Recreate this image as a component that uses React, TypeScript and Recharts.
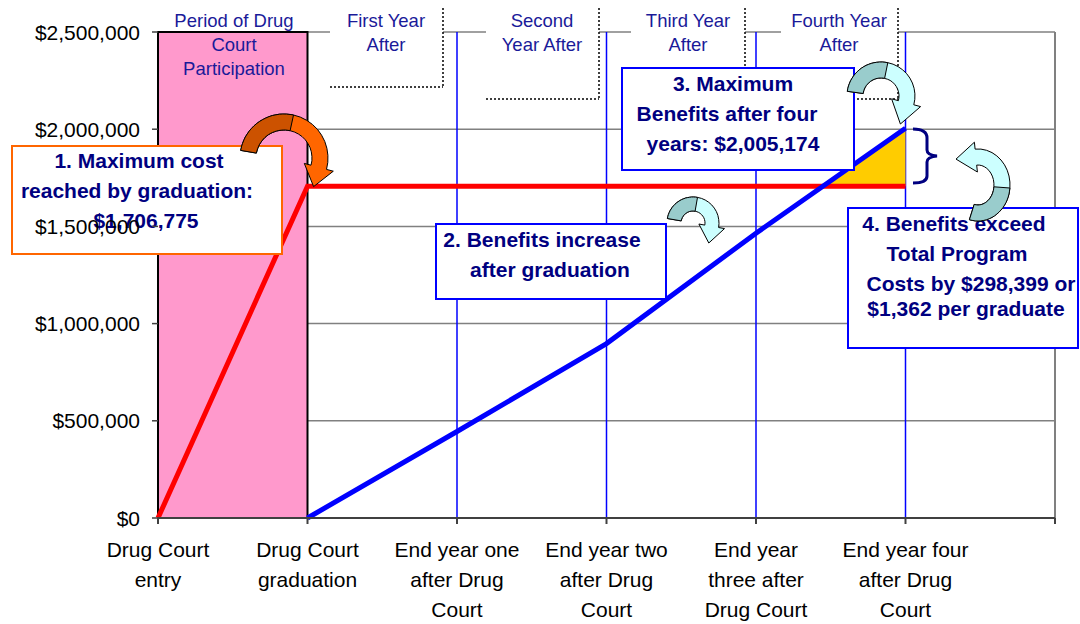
import React from 'react';
import * as Recharts from 'recharts';
import { ComposedChart, Line, Area, XAxis, YAxis, CartesianGrid, ReferenceArea, ReferenceLine } from 'recharts';

// chart values
const steps = [0, 1, 2, 3, 4, 5];
const stepLabels = [
  ['Drug Court', 'entry'],
  ['Drug Court', 'graduation'],
  ['End year one', 'after Drug', 'Court'],
  ['End year two', 'after Drug', 'Court'],
  ['End year', 'three after', 'Drug Court'],
  ['End year four', 'after Drug', 'Court'],
];
const programCost = [0, 1706775, 1706775, 1706775, 1706775, 1706775];
const benefits: (number | null)[] = [null, 0, 445000, 897000, 1465000, 2005174];
const yTicks = [0, 500000, 1000000, 1500000, 2000000, 2500000];
const xTicks = [0, 1, 2, 3, 4, 5, 6];
const yearLines = [2, 3, 4, 5];

const FONT = "'Liberation Sans', Arial, sans-serif";
const NAVY = '#000080';
const HEAD_BLUE = '#1a1a99';

// z-index layers exist in newer recharts 3; fall back to plain order otherwise
const ZLayer: any = (Recharts as any).ZIndexLayer;
const Layer = ({ z, children }: { z: number; children: React.ReactNode }) =>
  ZLayer ? <ZLayer zIndex={z}>{children}</ZLayer> : <>{children}</>;

// rows for the chart; the gold wedge starts where benefits pass cost
const rows: any[] = [];
steps.forEach((s, i) => {
  const b = benefits[i];
  const c = programCost[i];
  if (i > 0) {
    const pb = benefits[i - 1];
    const pc = programCost[i - 1];
    if (pb != null && b != null && pb < pc && b >= c) {
      const t = (pc - pb) / ((b - pb) - (c - pc));
      const v = pc + t * (c - pc);
      rows.push({ step: s - 1 + t, cost: v, benefit: v, excess: [v, v] });
    }
  }
  rows.push({
    step: s,
    cost: c,
    benefit: b,
    excess: b != null && b >= c && c > 0 ? [c, b] : null,
  });
});

const headers = [
  { lines: ['Period of Drug', 'Court', 'Participation'], cx: 234, box: null as number[] | null },
  { lines: ['First Year', 'After'], cx: 386, box: [330, 443, 87] },
  { lines: ['Second', 'Year After'], cx: 542, box: [486, 599, 99] },
  { lines: ['Third Year', 'After'], cx: 688, box: [631, 745, 99] },
  { lines: ['Fourth Year', 'After'], cx: 839, box: [781, 898, 99] },
];

const notes = [
  { x: 12, y: 146, w: 270, h: 108, stroke: '#ff6600', lines: [['1. Maximum cost', 139, 160], ['reached by graduation:', 137, 190], ['$1,706,775', 146, 220]] },
  { x: 436, y: 224, w: 230, h: 75, stroke: '#0000ff', lines: [['2. Benefits increase', 542, 239], ['after graduation', 550, 269]] },
  { x: 622, y: 68, w: 232, h: 102, stroke: '#0000ff', lines: [['3. Maximum', 733, 83], ['Benefits after four', 727, 113], ['years: $2,005,174', 733, 143]] },
  { x: 848, y: 208, w: 230, h: 140, stroke: '#0000ff', lines: [['4. Benefits exceed', 954, 223], ['Total Program', 957, 253], ['Costs by $298,399 or', 971, 283], ['$1,362 per graduate', 966, 308]] },
];

function curvedArrow(cx: number, cy: number, rx: number, ry: number, a0: number, a1: number, w: number, headLen: number, headW: number) {
  const pt = (a: number, off: number) => {
    const r = (a * Math.PI) / 180;
    let nx = ry * Math.cos(r);
    let ny = rx * Math.sin(r);
    const nl = Math.hypot(nx, ny);
    nx /= nl;
    ny /= nl;
    return [cx + rx * Math.cos(r) + nx * off, cy + ry * Math.sin(r) + ny * off];
  };
  const band = (from: number, to: number) => {
    const n = 20;
    const out: number[][] = [];
    const inn: number[][] = [];
    for (let i = 0; i <= n; i++) {
      const a = from + ((to - from) * i) / n;
      out.push(pt(a, w));
      inn.push(pt(a, -w));
    }
    return { out, inn };
  };
  const f = (p: number[]) => `${p[0].toFixed(1)},${p[1].toFixed(1)}`;
  const r1 = (a1 * Math.PI) / 180;
  const dir = Math.sign(a1 - a0);
  let tx = -rx * Math.sin(r1) * dir;
  let ty = ry * Math.cos(r1) * dir;
  const tl = Math.hypot(tx, ty);
  tx /= tl;
  ty /= tl;
  const c = pt(a1, 0);
  const tip = [c[0] + tx * headLen, c[1] + ty * headLen];
  const whole = band(a0, a1);
  const full =
    'M' + whole.out.map(f).join(' L') +
    ' L' + f(pt(a1, headW)) + ' L' + f(tip) + ' L' + f(pt(a1, -headW)) +
    ' L' + whole.inn.slice().reverse().map(f).join(' L') + ' Z';
  const mid = (a0 + a1) / 2;
  const half = band(a0, mid);
  const tail = 'M' + half.out.map(f).join(' L') + ' L' + half.inn.slice().reverse().map(f).join(' L') + ' Z';
  return { full, tail };
}

const arrows = [
  { geo: curvedArrow(284, 158, 36, 36, 190, 375, 8, 20, 15), head: '#ff6600', tail: '#cc5200' },
  { geo: curvedArrow(693, 223, 19, 19, 190, 370, 7, 17, 13), head: '#ccffff', tail: '#99cccc' },
  { geo: curvedArrow(881, 96, 26, 26, 188, 375, 8, 22, 15), head: '#ccffff', tail: '#99cccc' },
  { geo: curvedArrow(978, 185, 24, 28, 105, -95, 8, 20, 15), head: '#ccffff', tail: '#99cccc' },
];

const XTick = (p: any) => {
  const lines = stepLabels[p.payload.value] || [];
  return (
    <g>
      {lines.map((t, i) => (
        <text key={i} x={p.x} y={p.y + 25 + i * 30} textAnchor="middle" dominantBaseline="central"
          fontFamily={FONT} fontSize={21} fill="#000">{t}</text>
      ))}
    </g>
  );
};

const YTick = (p: any) => (
  <text x={p.x} y={p.y} textAnchor="end" dominantBaseline="central" fontFamily={FONT} fontSize={21} fill="#000">
    {'$' + Number(p.payload.value).toLocaleString('en-US')}
  </text>
);

const Headers = () => (
  <g>
    {headers.map((h, i) => (
      <g key={i}>
        {h.box && (
          <>
            <rect x={h.box[0]} y={0} width={h.box[1] - h.box[0]} height={h.box[2]} fill="#fff" />
            <line x1={h.box[1]} y1={8} x2={h.box[1]} y2={h.box[2]} stroke="#000" strokeWidth={1.5} strokeDasharray="2 2" />
            <line x1={h.box[0]} y1={h.box[2]} x2={h.box[1]} y2={h.box[2]} stroke="#000" strokeWidth={1.5} strokeDasharray="2 2" />
          </>
        )}
        {h.lines.map((t, j) => (
          <text key={j} x={h.cx} y={20 + j * 24} textAnchor="middle" dominantBaseline="central"
            fontFamily={FONT} fontSize={18.5} fill={HEAD_BLUE}>{t}</text>
        ))}
      </g>
    ))}
  </g>
);

const Notes = () => (
  <g>
    {notes.map((n, i) => (
      <g key={i}>
        <rect x={n.x} y={n.y} width={n.w} height={n.h} fill="#fff" stroke={n.stroke} strokeWidth={2} />
        {n.lines.map(([t, x, y], j) => (
          <text key={j} x={x as number} y={y as number} textAnchor="middle" dominantBaseline="central"
            fontFamily={FONT} fontSize={21} fontWeight="bold" fill={NAVY}>{t}</text>
        ))}
      </g>
    ))}
    {arrows.map((a, i) => (
      <g key={'a' + i}>
        <path d={a.geo.full} fill={a.head} stroke="#000" strokeWidth={1} />
        <path d={a.geo.tail} fill={a.tail} stroke="#000" strokeWidth={1} />
      </g>
    ))}
    <path d="M913,129 Q927,129 927,138 L927,150 Q927,155 937,156 Q927,157 927,162 L927,176 Q927,183 913,183"
      fill="none" stroke={NAVY} strokeWidth={3} />
  </g>
);

export default function App() {
  return (
    <div style={{ position: 'absolute', left: 0, top: 0, width: 1080, height: 624, background: '#fff' }}>
      <ComposedChart width={1080} height={624} data={rows} margin={{ top: 32, right: 25, bottom: 0, left: 0 }}>
        <CartesianGrid vertical={false} stroke="#808080" strokeWidth={1.5} />
        <ReferenceArea x1={0} x2={1} y1={0} y2={2500000} fill="#ff99cc" fillOpacity={1} stroke="#000" strokeWidth={2}
          {...({ zIndex: 50 } as any)} />
        {yearLines.map((s) => (
          <ReferenceLine key={s} x={s} stroke="#0000ff" strokeWidth={1.5} {...({ zIndex: 150 } as any)} />
        ))}
        <ReferenceLine x={6} stroke="#808080" strokeWidth={2} {...({ zIndex: 150 } as any)} />
        <XAxis dataKey="step" type="number" domain={[0, 6]} ticks={xTicks} interval={0} height={106}
          stroke="#404040" strokeWidth={2} tickSize={6} tickMargin={0} tick={XTick} />
        <Area dataKey="excess" type="linear" fill="#ffcc00" fillOpacity={1} stroke="none" isAnimationActive={false}
          {...({ zIndex: 200 } as any)} />
        <Line dataKey="cost" type="linear" stroke="#ff0000" strokeWidth={5} dot={false} isAnimationActive={false}
          {...({ zIndex: 400 } as any)} />
        <Line dataKey="benefit" type="linear" stroke="#0000ff" strokeWidth={5} dot={false} isAnimationActive={false}
          {...({ zIndex: 400 } as any)} />
        <Layer z={450}>
          <Headers />
          <Notes />
        </Layer>
        <YAxis type="number" domain={[0, 2500000]} ticks={yTicks} width={158} axisLine={false}
          tickLine={{ stroke: '#404040', strokeWidth: 1.5 }} tickSize={6} tickMargin={12} tick={YTick}
          {...({ zIndex: 500 } as any)} />
      </ComposedChart>
    </div>
  );
}
